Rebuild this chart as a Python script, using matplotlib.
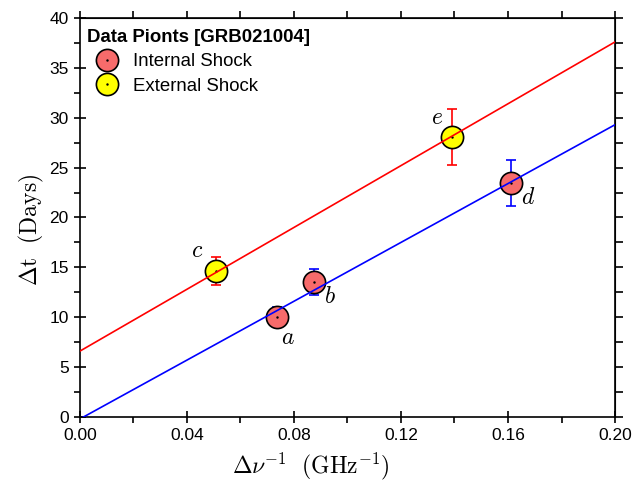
import matplotlib
matplotlib.use("Agg")
import matplotlib.pyplot as plt
import numpy as np
from matplotlib.lines import Line2D
from matplotlib.ticker import MultipleLocator, FormatStrFormatter

plt.rcParams['font.family'] = ['Liberation Sans', 'DejaVu Sans']
plt.rcParams['mathtext.fontset'] = 'cm'

# Internal shock points (a, b, d)
int_labels = ['a', 'b', 'd']
int_x = [0.0737, 0.0875, 0.161]
int_y = [10.0, 13.5, 23.5]
int_err = [1.0, 1.3, 2.3]

# External shock points (c, e)
ext_labels = ['c', 'e']
ext_x = [0.0510, 0.139]
ext_y = [14.6, 28.1]
ext_err = [1.4, 2.8]

# Linear fits: (intercept, slope)
ext_fit = (6.6, 155.0)
int_fit = (-0.2, 147.5)

fig = plt.figure(figsize=(6.44, 4.86), dpi=100)
ax = fig.add_axes([0.124, 0.142, 0.831, 0.821])

xx = np.array([0.0, 0.2])
ax.plot(xx, ext_fit[0] + ext_fit[1] * xx, color='red', lw=1.2, zorder=4)
ax.plot(xx, int_fit[0] + int_fit[1] * xx, color='blue', lw=1.2, zorder=4)

ax.errorbar(int_x, int_y, yerr=int_err, fmt='none', ecolor='blue', elinewidth=1.2, capsize=3.5, capthick=1.2, zorder=2)
ax.errorbar(ext_x, ext_y, yerr=ext_err, fmt='none', ecolor='red', elinewidth=1.2, capsize=3.5, capthick=1.2, zorder=2)

red_fill = '#f76b6b'
yellow_fill = '#ffff00'
ax.plot(int_x, int_y, 'o', ms=16, mfc=red_fill, mec='black', mew=1.2, ls='none', zorder=3)
ax.plot(ext_x, ext_y, 'o', ms=16, mfc=yellow_fill, mec='black', mew=1.2, ls='none', zorder=3)
ax.plot(int_x + ext_x, int_y + ext_y, '.', ms=1.5, color='black', ls='none', zorder=3.5)

# letter labels
offsets = {'a': (0.0040, -2.1), 'b': (0.0060, -1.5), 'c': (-0.0070, 2.0), 'd': (0.0065, -1.5), 'e': (-0.0055, 1.9)}
for lab, x, y in zip(int_labels + ext_labels, int_x + ext_x, int_y + ext_y):
    dx, dy = offsets[lab]
    ax.text(x + dx, y + dy, '$' + lab + '$', fontsize=17, ha='center', va='center')

ax.set_xlim(0, 0.2)
ax.set_ylim(0, 40)
ax.xaxis.set_major_locator(MultipleLocator(0.04))
ax.xaxis.set_minor_locator(MultipleLocator(0.02))
ax.yaxis.set_major_locator(MultipleLocator(5))
ax.yaxis.set_minor_locator(MultipleLocator(2.5))
ax.xaxis.set_major_formatter(FormatStrFormatter('%.2f'))
ax.tick_params(which='major', direction='inout', length=9, width=1.2, labelsize=12.5)
ax.tick_params(which='minor', direction='out', length=4, width=1.2)
for s in ax.spines.values():
    s.set_linewidth(1.2)

secx = ax.secondary_xaxis('top')
secx.xaxis.set_major_locator(MultipleLocator(0.02))
secx.tick_params(direction='out', length=5, width=1.2, labeltop=False)
secx.set_xticklabels([])
secy = ax.secondary_yaxis('right')
secy.yaxis.set_major_locator(MultipleLocator(2.5))
secy.tick_params(direction='out', length=6, width=1.2, labelright=False)
secy.set_yticklabels([])

ax.set_xlabel(r'$\Delta\nu^{-1}\ \ (\mathrm{GHz}^{-1})$', fontsize=17)
ax.set_ylabel(r'$\Delta\mathrm{t}\ \ (\mathrm{Days})$', fontsize=17)
ax.xaxis.set_label_coords((311 - 80) / 535, -(466 - 417) / 399, transform=ax.transAxes)
ax.yaxis.set_label_coords(-(80 - 32) / 535, (417 - 230) / 399, transform=ax.transAxes)
ax.xaxis.label.set_va('center')
ax.yaxis.label.set_va('center')

h1 = (Line2D([], [], marker='o', ms=16, mfc=red_fill, mec='black', mew=1.2, ls='none'),
      Line2D([], [], marker='.', ms=1.5, color='black', ls='none'))
h2 = (Line2D([], [], marker='o', ms=16, mfc=yellow_fill, mec='black', mew=1.2, ls='none'),
      Line2D([], [], marker='.', ms=1.5, color='black', ls='none'))
leg = ax.legend([h1, h2], ['Internal Shock', 'External Shock'], loc='upper left',
                bbox_to_anchor=(-0.015, 1.01),
                title='Data Pionts [GRB021004]', title_fontproperties={'weight': 'bold', 'size': 13.4},
                fontsize=13.4, frameon=False, borderaxespad=0.0, handletextpad=0.3,
                labelspacing=0.4, borderpad=0.8, handlelength=2.2)
leg._legend_box.align = 'left'

fig.savefig('out.png', dpi=100)
